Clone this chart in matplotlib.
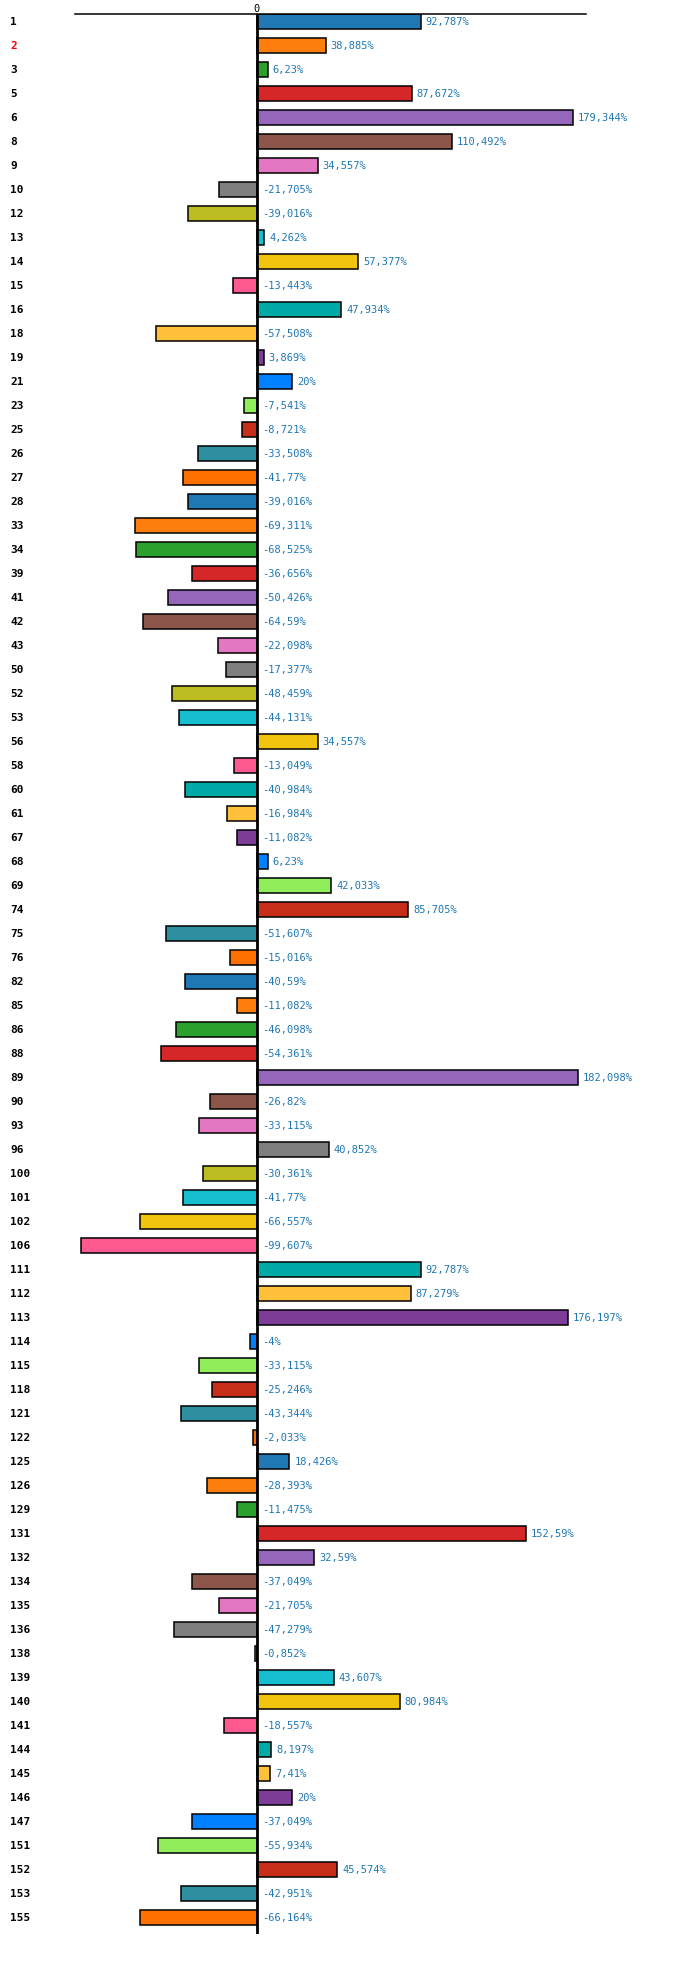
import matplotlib
matplotlib.use("Agg")
import matplotlib.pyplot as plt
from matplotlib import transforms
import numpy as np

# ids of the items and their change in %
ids = ['1', '2', '3', '5', '6', '8', '9', '10', '12', '13',
       '14', '15', '16', '18', '19', '21', '23', '25', '26', '27',
       '28', '33', '34', '39', '41', '42', '43', '50', '52', '53',
       '56', '58', '60', '61', '67', '68', '69', '74', '75', '76',
       '82', '85', '86', '88', '89', '90', '93', '96', '100', '101',
       '102', '106', '111', '112', '113', '114', '115', '118', '121', '122',
       '125', '126', '129', '131', '132', '134', '135', '136', '138', '139',
       '140', '141', '144', '145', '146', '147', '151', '152', '153', '155']
values = [92.787, 38.885, 6.23, 87.672, 179.344, 110.492, 34.557, -21.705, -39.016, 4.262,
          57.377, -13.443, 47.934, -57.508, 3.869, 20, -7.541, -8.721, -33.508, -41.77,
          -39.016, -69.311, -68.525, -36.656, -50.426, -64.59, -22.098, -17.377, -48.459, -44.131,
          34.557, -13.049, -40.984, -16.984, -11.082, 6.23, 42.033, 85.705, -51.607, -15.016,
          -40.59, -11.082, -46.098, -54.361, 182.098, -26.82, -33.115, 40.852, -30.361, -41.77,
          -66.557, -99.607, 92.787, 87.279, 176.197, -4, -33.115, -25.246, -43.344, -2.033,
          18.426, -28.393, -11.475, 152.59, 32.59, -37.049, -21.705, -47.279, -0.852, 43.607,
          80.984, -18.557, 8.197, 7.41, 20, -37.049, -55.934, 45.574, -42.951, -66.164]
highlight = '2'

palette = ['#1f77b4', '#ff7f0e', '#2ca02c', '#d62728', '#9467bd',
           '#8c564b', '#e377c2', '#7f7f7f', '#bcbd22', '#17becf',
           '#f1c40f', '#ff5a8f', '#00aaa6', '#ffc13b', '#7d3c98',
           '#0080ff', '#90ee5a', '#c62e1a', '#2e8fa0', '#ff7000']

n = len(ids)
ys = np.arange(n)
colors = [palette[i % len(palette)] for i in range(n)]

fig = plt.figure(figsize=(7, 19.65), dpi=100)
ax = fig.add_axes([75 / 700, 30 / 1965, 511 / 700, 1920 / 1965])

ax.barh(ys, values, height=0.625, color=colors, edgecolor='black', linewidth=1.1, zorder=2)
ax.axvline(0, color='black', lw=2, zorder=3)

ax.set_xlim(-103.2, 186.6)
ax.set_ylim(79.69, -0.3125)

for s in ['left', 'right', 'bottom']:
    ax.spines[s].set_visible(False)
ax.spines['top'].set_linewidth(1.1)

ax.xaxis.tick_top()
ax.set_xticks([0])
ax.set_xticklabels(['0'], fontfamily='DejaVu Sans Mono', fontsize=7.5)
ax.tick_params(axis='x', length=0, pad=1)
ax.set_yticks([])

mono = 'DejaVu Sans Mono'
for y, v in zip(ys, values):
    txt = f"{v:g}".replace('.', ',') + '%'
    x0 = max(v, 0)
    ax.annotate(txt, (x0, y), xytext=(3.5, 0), textcoords='offset points',
                va='center', ha='left', color='#1f77b4', fontsize=7.5, fontfamily=mono)

trans = transforms.blended_transform_factory(fig.transFigure, ax.transData)
for y, name in zip(ys, ids):
    ax.text(10 / 700, y, name, transform=trans, va='center', ha='left',
            fontsize=8, fontweight='bold', fontfamily=mono,
            color='red' if name == highlight else 'black')

fig.savefig('out.png', dpi=100)
